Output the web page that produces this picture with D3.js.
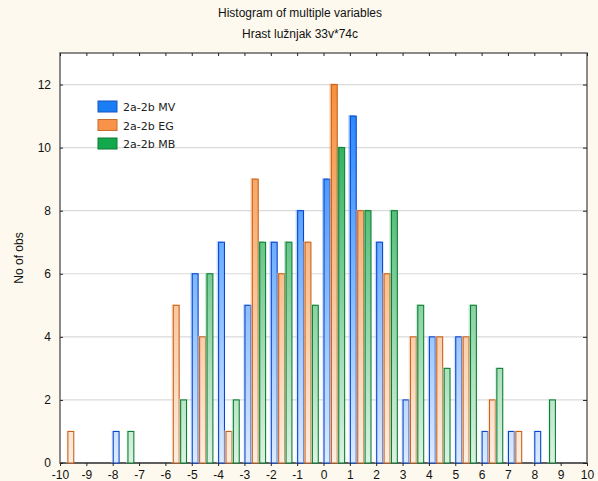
<!DOCTYPE html>
<html>
<head>
<meta charset="utf-8">
<script src="https://cdn.jsdelivr.net/npm/d3@7"></script>
<style>
  html, body { margin: 0; padding: 0; background: #fdf9ee; }
  #chart { width: 598px; height: 481px; }
</style>
</head>
<body>
<div id="chart"></div>
<script>
// histogram bins (lower edge of each bin, width 1)
var binStarts = [-10, -9, -8, -7, -6, -5, -4, -3, -2, -1, 0, 1, 2, 3, 4, 5, 6, 7, 8, 9];
var seriesNames = ["2a-2b MV", "2a-2b EG", "2a-2b MB"];
var mvCounts = [0, 0, 1, 0, 0, 6, 7, 5, 7, 8, 9, 11, 7, 2, 4, 4, 1, 1, 1, 0];
var egCounts = [1, 0, 0, 0, 5, 4, 1, 9, 6, 7, 12, 8, 6, 4, 4, 4, 2, 1, 0, 0];
var mbCounts = [0, 0, 1, 0, 2, 6, 2, 7, 7, 5, 10, 8, 8, 5, 3, 5, 3, 0, 2, 0];
var xTicks = [-10, -9, -8, -7, -6, -5, -4, -3, -2, -1, 0, 1, 2, 3, 4, 5, 6, 7, 8, 9, 10];
var yTicks = [0, 2, 4, 6, 8, 10, 12];

var width = 598,
    height = 481;
var plotL = 60, plotR = 587, plotT = 53, plotB = 463;

var colors = [
    {top: "#1a80ff", low: "#dcebff", line: "#0b45cc", key: "#1b7ef5", keyLine: "#1a55c0"},
    {top: "#f88f3c", low: "#fdeee2", line: "#c8621c", key: "#f7944a", keyLine: "#c96c2c"},
    {top: "#14a54a", low: "#dcf2e2", line: "#0e7f32", key: "#14a84c", keyLine: "#0b7a32"}
];

var svg = d3.select("#chart")
    .append("svg")
    .attr("width", width)
    .attr("height", height)
    .style("font-family", "'Liberation Sans', Arial, sans-serif");

svg.append("rect")
    .attr("width", width)
    .attr("height", height)
    .attr("fill", "#fdf9ee");

var x = d3.scaleLinear().domain([-10, 10]).range([plotL, plotR]);
var y = d3.scaleLinear().domain([0, 13]).range([plotB, plotT]);

// three bars per bin, filling the first 84% of the bin
var inner = d3.scaleBand()
    .domain([0, 1, 2])
    .range([0, x(0.84) - x(0)])
    .padding(0);

//gradients go across the whole plot height
var defs = svg.append("defs");
colors.forEach(function(c, i) {
    var g = defs.append("linearGradient")
        .attr("id", "grad" + i)
        .attr("gradientUnits", "userSpaceOnUse")
        .attr("x1", 0).attr("x2", 0)
        .attr("y1", y(12)).attr("y2", y(0));
    g.append("stop").attr("offset", "0%").attr("stop-color", c.top);
    g.append("stop").attr("offset", "100%").attr("stop-color", c.low);
});

svg.append("rect")
    .attr("x", plotL)
    .attr("y", plotT)
    .attr("width", plotR - plotL)
    .attr("height", plotB - plotT)
    .attr("fill", "#ffffff");

//gridlines
svg.append("g")
    .selectAll("line")
    .data(yTicks.filter(function(d) { return d > 0; }))
    .enter().append("line")
    .attr("x1", plotL)
    .attr("x2", plotR)
    .attr("y1", function(d) { return y(d); })
    .attr("y2", function(d) { return y(d); })
    .attr("stroke", "#dadada")
    .attr("stroke-width", 1.2);

//frame
svg.append("rect")
    .attr("x", plotL)
    .attr("y", plotT)
    .attr("width", plotR - plotL)
    .attr("height", plotB - plotT)
    .attr("fill", "none")
    .attr("stroke", "#6e6e6e")
    .attr("stroke-width", 1.6);

svg.append("line")
    .attr("x1", plotL).attr("x2", plotR)
    .attr("y1", plotB).attr("y2", plotB)
    .attr("stroke", "#333")
    .attr("stroke-width", 1.2);

var allCounts = [mvCounts, egCounts, mbCounts];

allCounts.forEach(function(counts, si) {
    var rows = binStarts.map(function(b, i) { return {bin: b, n: counts[i]}; });
    var g = svg.append("g");

    //soft back copy for the 3d look
    g.selectAll(".shade")
        .data(rows.filter(function(d) { return d.n > 0; }))
        .enter().append("rect")
        .attr("class", "shade")
        .attr("x", function(d) { return x(d.bin) + inner(si) - 1.5; })
        .attr("y", function(d) { return y(d.n) - 1; })
        .attr("width", inner.bandwidth() - 1)
        .attr("height", function(d) { return plotB - y(d.n) + 1; })
        .attr("fill", "url(#grad" + si + ")")
        .attr("opacity", 0.45);

    g.selectAll(".bar")
        .data(rows)
        .enter().append("rect")
        .attr("class", "bar")
        .attr("x", function(d) { return x(d.bin) + inner(si) + 0.5; })
        .attr("y", function(d) { return y(d.n); })
        .attr("width", inner.bandwidth() - 1.5)
        .attr("height", function(d) { return plotB - y(d.n); })
        .attr("fill", "url(#grad" + si + ")")
        .attr("stroke", colors[si].line)
        .attr("stroke-width", 1.1);
});

//axes
var plainFmt = function(d) { return String(d); };
svg.append("g")
    .attr("transform", "translate(0," + plotB + ")")
    .call(d3.axisBottom(x).tickValues(xTicks).tickSize(3).tickPadding(4).tickFormat(plainFmt));
svg.append("g")
    .attr("transform", "translate(" + plotL + ",0)")
    .call(d3.axisLeft(y).tickValues(yTicks).tickSize(-3).tickPadding(9).tickFormat(plainFmt));
svg.append("g")
    .attr("transform", "translate(0," + plotT + ")")
    .call(d3.axisTop(x).tickValues(xTicks).tickSize(-3).tickFormat(""));
svg.append("g")
    .attr("transform", "translate(" + plotR + ",0)")
    .call(d3.axisRight(y).tickValues(yTicks).tickSize(-4).tickFormat(""));

svg.selectAll(".domain").remove();
svg.selectAll(".tick line").attr("stroke", "#222");
svg.selectAll(".tick text")
    .attr("fill", "#111")
    .style("font-size", "12px")
    .style("font-family", "'Liberation Sans', Arial, sans-serif");

//titles
svg.append("text")
    .attr("x", 300)
    .attr("y", 17)
    .attr("text-anchor", "middle")
    .style("font-size", "12px")
    .attr("fill", "#111")
    .text("Histogram of multiple variables");
svg.append("text")
    .attr("x", 300)
    .attr("y", 38)
    .attr("text-anchor", "middle")
    .style("font-size", "12px")
    .attr("fill", "#111")
    .text("Hrast lužnjak 33v*74c");

svg.append("text")
    .attr("transform", "translate(23," + (y(6.5)) + ") rotate(-90)")
    .attr("text-anchor", "middle")
    .style("font-size", "12px")
    .attr("fill", "#111")
    .text("No of obs");

//legend
var legend = svg.append("g")
    .attr("transform", "translate(98,101)");
var items = legend.selectAll("g")
    .data(seriesNames)
    .enter().append("g")
    .attr("transform", function(d, i) { return "translate(0," + (i * 18.5) + ")"; });
items.append("rect")
    .attr("width", 19)
    .attr("height", 11)
    .attr("fill", function(d, i) { return colors[i].key; })
    .attr("stroke", function(d, i) { return colors[i].keyLine; })
    .attr("stroke-width", 1);
items.append("text")
    .attr("x", 25)
    .attr("y", 10)
    .style("font-family", "'DejaVu Sans', Verdana, sans-serif")
    .style("font-size", "11px")
    .attr("fill", "#222")
    .text(function(d) { return d; });
</script>
</body>
</html>
